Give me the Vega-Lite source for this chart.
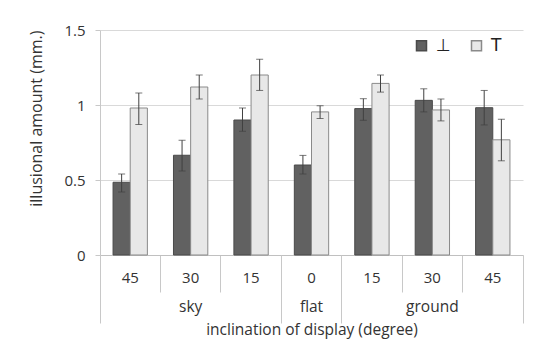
{
  "$schema": "https://vega.github.io/schema/vega-lite/v6.json",
  "width": 423,
  "height": 225,
  "autosize": {"type": "none"},
  "padding": {"left": 100, "top": 30, "right": 12, "bottom": 85},
  "background": "white",
  "config": {
    "font": "Open Sans",
    "view": {"stroke": null},
    "axis": {"labelFont": "Open Sans", "titleFont": "Open Sans", "labelColor": "#333", "titleColor": "#333", "titleFontWeight": "normal"}
  },
  "data": {
    "values": [
      {"key": "sky|45", "series": "⊥", "value": 0.485, "lo": 0.42, "hi": 0.54},
      {"key": "sky|45", "series": "T", "value": 0.98, "lo": 0.87, "hi": 1.08},
      {"key": "sky|30", "series": "⊥", "value": 0.665, "lo": 0.56, "hi": 0.765},
      {"key": "sky|30", "series": "T", "value": 1.12, "lo": 1.04, "hi": 1.2},
      {"key": "sky|15", "series": "⊥", "value": 0.9, "lo": 0.825, "hi": 0.98},
      {"key": "sky|15", "series": "T", "value": 1.2, "lo": 1.097, "hi": 1.305},
      {"key": "flat|0", "series": "⊥", "value": 0.6, "lo": 0.54, "hi": 0.664},
      {"key": "flat|0", "series": "T", "value": 0.954, "lo": 0.91, "hi": 0.995},
      {"key": "ground|15", "series": "⊥", "value": 0.976, "lo": 0.898, "hi": 1.042},
      {"key": "ground|15", "series": "T", "value": 1.144, "lo": 1.086, "hi": 1.2},
      {"key": "ground|30", "series": "⊥", "value": 1.031, "lo": 0.954, "hi": 1.108},
      {"key": "ground|30", "series": "T", "value": 0.967, "lo": 0.894, "hi": 1.04},
      {"key": "ground|45", "series": "⊥", "value": 0.982, "lo": 0.867, "hi": 1.097},
      {"key": "ground|45", "series": "T", "value": 0.768, "lo": 0.628, "hi": 0.905}
    ]
  },
  "resolve": {"axis": {"x": "independent"}},
  "layer": [
    {
      "mark": {"type": "bar", "strokeWidth": 1},
      "encoding": {
        "x": {
          "field": "key", "type": "nominal",
          "sort": ["sky|45", "sky|30", "sky|15", "flat|0", "ground|15", "ground|30", "ground|45"],
          "scale": {"paddingInner": 0, "paddingOuter": 0},
          "axis": {
            "orient": "bottom", "title": null, "labelAngle": 0,
            "labelExpr": "split(datum.value, '|')[1]",
            "bandPosition": 0, "tickSize": 37, "tickColor": "#c8c8c8",
            "domainColor": "#c0c0c0", "labelFontSize": 15, "labelPadding": -22,
            "labelBaseline": "top"
          }
        },
        "xOffset": {"field": "series", "type": "nominal", "sort": ["⊥", "T"], "scale": {"paddingOuter": 0.76, "paddingInner": 0}},
        "y": {
          "field": "value", "type": "quantitative",
          "scale": {"domain": [0, 1.5], "nice": false},
          "axis": {
            "values": [0, 0.5, 1, 1.5], "format": "~g",
            "title": "illusional amount (mm.)", "titleAnchor": "end", "titleFontSize": 16,
            "titlePadding": 19,
            "labelFontSize": 15, "labelPadding": 10,
            "domainColor": "#c8c8c8", "tickColor": "#c8c8c8", "tickSize": 5,
            "gridColor": "#d9d9d9"
          }
        },
        "color": {
          "field": "series", "type": "nominal", "sort": ["⊥", "T"],
          "scale": {"domain": ["⊥", "T"], "range": ["#616161", "#e8e8e8"]},
          "legend": {
            "title": null, "orient": "none", "direction": "horizontal",
            "legendX": 313, "legendY": 7, "symbolType": "square", "symbolSize": 100,
            "labelFontSize": 17, "labelFont": "DejaVu Sans", "labelColor": "#222", "columnPadding": 17, "labelOffset": 6
          }
        },
        "stroke": {
          "field": "series", "type": "nominal", "sort": ["⊥", "T"],
          "scale": {"domain": ["⊥", "T"], "range": ["#4a4a4a", "#8a8a8a"]}
        }
      }
    },
    {
      "mark": {"type": "rule", "color": "#404040", "strokeWidth": 1},
      "encoding": {
        "x": {
          "field": "key", "type": "nominal",
          "sort": ["sky|45", "sky|30", "sky|15", "flat|0", "ground|15", "ground|30", "ground|45"],
          "axis": {
            "orient": "bottom", "domain": false, "labelAngle": 0,
            "bandPosition": 0, "tickSize": 68, "tickColor": "#c8c8c8",
            "tickOpacity": {"condition": {"test": "indexof(['sky|45','flat|0','ground|15'], datum.value) >= 0", "value": 1}, "value": 0},
            "labelExpr": "datum.value == 'sky|30' ? 'sky' : datum.value == 'flat|0' ? 'flat' : datum.value == 'ground|30' ? 'ground' : ''",
            "labelFontSize": 15.5, "labelPadding": -24, "labelBaseline": "top",
            "title": "inclination of display (degree)", "titleFontSize": 15.5, "titlePadding": -1.5
          }
        },
        "xOffset": {"field": "series", "type": "nominal", "sort": ["⊥", "T"]},
        "y": {"field": "lo", "type": "quantitative"},
        "y2": {"field": "hi"}
      }
    },
    {
      "mark": {"type": "tick", "color": "#404040", "thickness": 1, "size": 7},
      "encoding": {
        "x": {
          "field": "key", "type": "nominal",
          "sort": ["sky|45", "sky|30", "sky|15", "flat|0", "ground|15", "ground|30", "ground|45"],
          "axis": {
            "orient": "bottom", "domain": false, "labels": false, "title": null,
            "bandPosition": 1, "tickSize": 68, "tickColor": "#c8c8c8",
            "tickOpacity": {"condition": {"test": "datum.value == 'ground|45'", "value": 1}, "value": 0}
          }
        },
        "xOffset": {"field": "series", "type": "nominal", "sort": ["⊥", "T"]},
        "y": {"field": "lo", "type": "quantitative"}
      }
    },
    {
      "mark": {"type": "tick", "color": "#404040", "thickness": 1, "size": 7},
      "encoding": {
        "x": {
          "field": "key", "type": "nominal",
          "sort": ["sky|45", "sky|30", "sky|15", "flat|0", "ground|15", "ground|30", "ground|45"],
          "axis": null
        },
        "xOffset": {"field": "series", "type": "nominal", "sort": ["⊥", "T"]},
        "y": {"field": "hi", "type": "quantitative"}
      }
    }
  ]
}
